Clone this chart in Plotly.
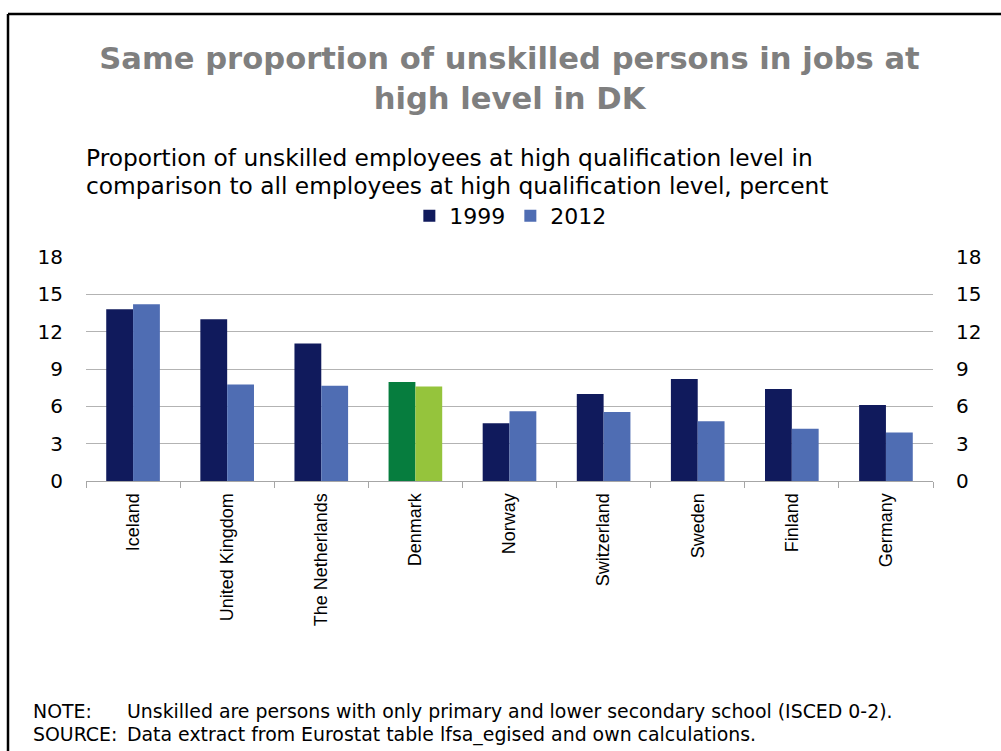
import plotly.graph_objects as go

countries = ["Iceland", "United Kingdom", "The Netherlands", "Denmark", "Norway",
             "Switzerland", "Sweden", "Finland", "Germany"]
share_1999 = [13.8, 13.0, 11.05, 7.95, 4.65, 7.0, 8.2, 7.4, 6.1]
share_2012 = [14.2, 7.75, 7.65, 7.6, 5.6, 5.55, 4.8, 4.2, 3.9]
y_ticks = [0, 3, 6, 9, 12, 15, 18]

NAVY = "#101a5c"
BLUE = "#4f6db3"
DK_DARK = "#067d3e"
DK_LIGHT = "#95c43c"

colors_1999 = [DK_DARK if c == "Denmark" else NAVY for c in countries]
colors_2012 = [DK_LIGHT if c == "Denmark" else BLUE for c in countries]

W, H = 1001, 751
ML, MR, MT, MB = 86, 68, 257, 270
PW, PH = W - ML - MR, H - MT - MB


def px_x(x):
    """page pixel x -> paper coordinate"""
    return (x - ML) / PW


def px_y(y):
    """page pixel y -> paper coordinate"""
    return (H - MB - y) / PH


fig = go.Figure()
fig.add_trace(go.Bar(x=countries, y=share_1999, name="1999",
                     marker=dict(color=colors_1999, line=dict(width=0))))
fig.add_trace(go.Bar(x=countries, y=share_2012, name="2012",
                     marker=dict(color=colors_2012, line=dict(width=0))))
# invisible trace so the right-hand axis is drawn
fig.add_trace(go.Scatter(x=countries, y=share_1999, yaxis="y2", mode="markers",
                         marker=dict(opacity=0), showlegend=False, hoverinfo="skip"))

SANS = "DejaVu Sans, Verdana, sans-serif"
tick_font = dict(family=SANS, size=20, color="#000000")

fig.update_layout(
    width=W, height=H,
    margin=dict(l=ML, r=MR, t=MT, b=MB),
    paper_bgcolor="white", plot_bgcolor="white",
    barmode="group", bargap=0.43, bargroupgap=0,
    title=dict(
        text="<b>Same proportion of unskilled persons in jobs at<br>high level in DK</b>",
        xref="paper", x=0.5, xanchor="center", y=1 - 69 / H, yanchor="middle",
        font=dict(family=SANS, size=30.6, color="#7f7f7f"),
    ),
    showlegend=True,
    legend=dict(orientation="h", x=0.501, xanchor="center", y=px_y(216), yanchor="middle",
                font=dict(family=SANS, size=22, color="#000000"), itemwidth=30,
                tracegroupgap=0, bgcolor="rgba(0,0,0,0)"),
    xaxis=dict(
        type="category", showgrid=False, showline=True, linecolor="#a6a6a6", linewidth=1,
        ticks="outside", tickson="boundaries", ticklen=6, tickcolor="#a6a6a6",
        tickangle=-90, ticklabelstandoff=4,
        tickfont=dict(family="Liberation Sans, Arial, sans-serif", size=18, color="#000000"),
    ),
    yaxis=dict(
        range=[0, 18], tickvals=y_ticks, showgrid=True, gridcolor="#b3b3b3", gridwidth=1,
        zeroline=False, showline=False, ticks="", tickfont=tick_font,
        ticklabelstandoff=22,
    ),
    yaxis2=dict(
        range=[0, 18], tickvals=y_ticks, overlaying="y", side="right", showgrid=False,
        zeroline=False, showline=False, ticks="", tickfont=tick_font,
        ticklabelstandoff=22,
    ),
)

sub_font = dict(family=SANS, size=23.3, color="#000000")
for text, yc in [("Proportion of unskilled employees at high qualification level in", 158),
                 ("comparison to all employees at high qualification level, percent", 186)]:
    fig.add_annotation(text=text, xref="paper", yref="paper", x=px_x(84), y=px_y(yc),
                       xanchor="left", yanchor="middle", showarrow=False, font=sub_font)

note_font = dict(family=SANS, size=18.9, color="#000000")
notes = [("NOTE:", "Unskilled are persons with only primary and lower secondary school (ISCED 0-2).", 711),
         ("SOURCE:", "Data extract from Eurostat table lfsa_egised and own calculations.", 734)]
for label, text, yc in notes:
    fig.add_annotation(text=label, xref="paper", yref="paper", x=px_x(31), y=px_y(yc),
                       xanchor="left", yanchor="middle", showarrow=False, font=note_font)
    fig.add_annotation(text=text, xref="paper", yref="paper", x=px_x(125), y=px_y(yc),
                       xanchor="left", yanchor="middle", showarrow=False, font=note_font)

# frame along the top and left edges of the page
fig.add_shape(type="line", xref="paper", yref="paper", x0=px_x(8), x1=px_x(1010),
              y0=px_y(14), y1=px_y(14), line=dict(color="black", width=2.5))
fig.add_shape(type="line", xref="paper", yref="paper", x0=px_x(8), x1=px_x(8),
              y0=px_y(14), y1=px_y(760), line=dict(color="black", width=2.5))

fig.write_html("out.html")
